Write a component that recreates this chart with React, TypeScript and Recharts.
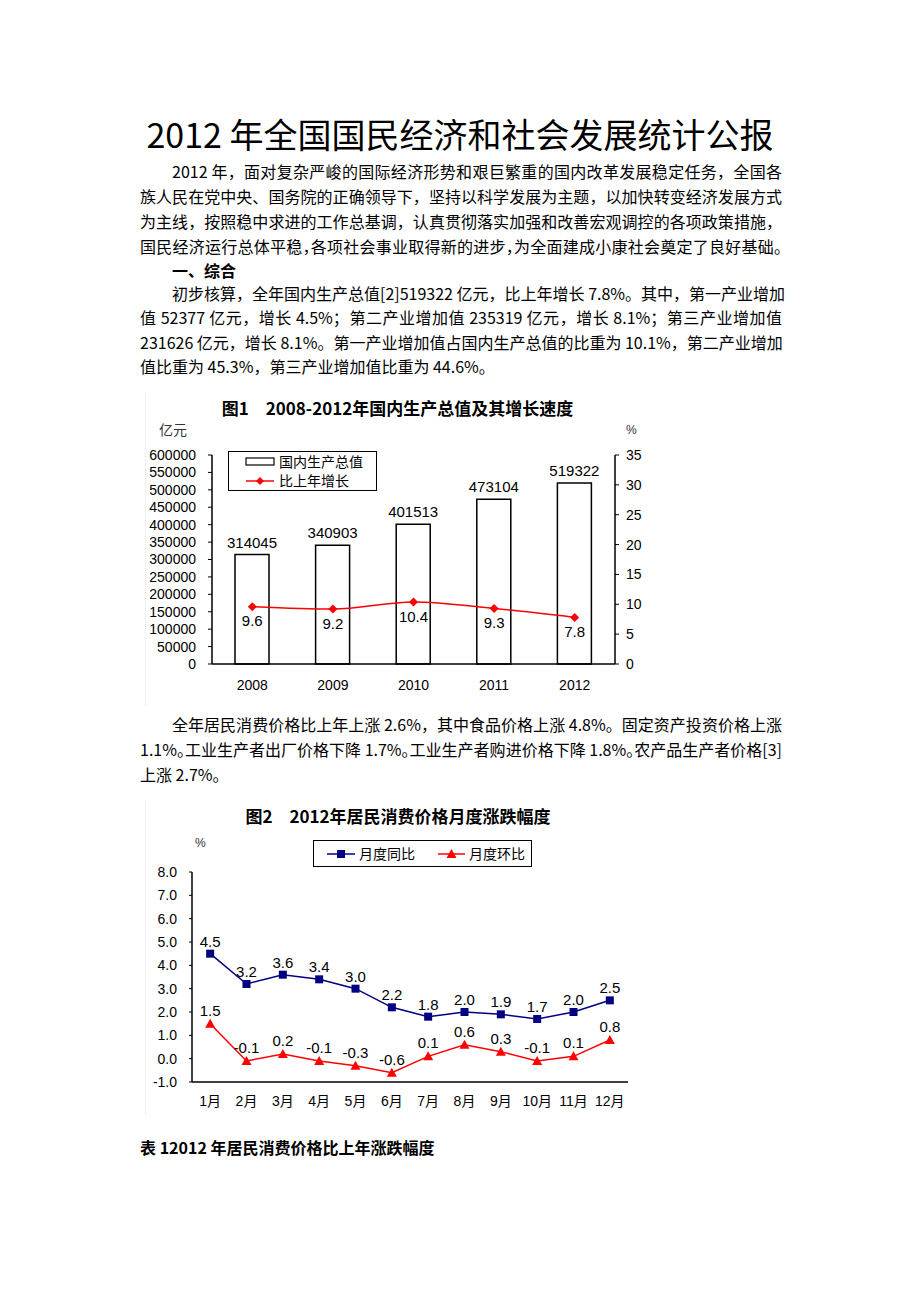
import React from "react";
import { ComposedChart, LineChart, Bar, Line, XAxis, YAxis, LabelList } from "recharts";

// 图1 data
const gdpYears = ["2008", "2009", "2010", "2011", "2012"];
const gdpValues = [314045, 340903, 401513, 473104, 519322];
const gdpGrowth = [9.6, 9.2, 10.4, 9.3, 7.8];
const gdpTicks = [0, 50000, 100000, 150000, 200000, 250000, 300000, 350000, 400000, 450000, 500000, 550000, 600000];
const growthTicks = [0, 5, 10, 15, 20, 25, 30, 35];

// 图2 data
const cpiMonths = ["1月", "2月", "3月", "4月", "5月", "6月", "7月", "8月", "9月", "10月", "11月", "12月"];
const cpiYoY = [4.5, 3.2, 3.6, 3.4, 3.0, 2.2, 1.8, 2.0, 1.9, 1.7, 2.0, 2.5];
const cpiMoM = [1.5, -0.1, 0.2, -0.1, -0.3, -0.6, 0.1, 0.6, 0.3, -0.1, 0.1, 0.8];
const cpiTicks = [-1, 0, 1, 2, 3, 4, 5, 6, 7, 8];

const gdpData = gdpYears.map((year, i) => ({ year, gdp: gdpValues[i], growth: gdpGrowth[i] }));
const cpiData = cpiMonths.map((month, i) => ({ month, yoy: cpiYoY[i], mom: cpiMoM[i] }));

const CJK = '"Noto Sans CJK SC", sans-serif';
const CHART_FONT = '"Liberation Sans", "Noto Sans CJK SC", sans-serif';
const RED = "#ff0000";
const NAVY = "#000080";

const tickStyle = { fill: "#000", fontSize: 14 };

function Diamond(p: any) {
  const { cx, cy, index } = p;
  if (cx == null || cy == null) return <g key={index} />;
  const r = 4.5;
  return <path key={index} d={`M${cx},${cy - r}L${cx + r},${cy}L${cx},${cy + r}L${cx - r},${cy}Z`} fill={RED} />;
}

function Square(p: any) {
  const { cx, cy, index } = p;
  if (cx == null || cy == null) return <g key={index} />;
  return <rect key={index} x={cx - 4} y={cy - 4} width={8} height={8} fill={NAVY} />;
}

function Triangle(p: any) {
  const { cx, cy, index } = p;
  if (cx == null || cy == null) return <g key={index} />;
  return <path key={index} d={`M${cx},${cy - 5}L${cx + 5},${cy + 4}L${cx - 5},${cy + 4}Z`} fill={RED} />;
}

function TextLine({ top, left = 140, width = 642, last = false, bold = false, children }: any) {
  return (
    <div
      style={{
        position: "absolute",
        top,
        left,
        width,
        fontSize: 16,
        lineHeight: "25px",
        whiteSpace: "nowrap",
        textAlign: "justify",
        textAlignLast: last ? "left" : "justify",
        fontWeight: bold ? 700 : 400,
        color: "#000",
      }}
    >
      {children}
    </div>
  );
}

// half-width punctuation, the way Word squeezes it at line ends
const H = ({ c }: { c: string }) => <span style={{ fontFeatureSettings: '"halt"' }}>{c}</span>;

function GdpChart() {
  return (
    <div style={{ position: "absolute", left: 145, top: 395, width: 555, height: 310, fontFamily: CHART_FONT, borderLeft: "1px dotted #e4e4e4" }}>
      <div style={{ position: "absolute", left: 0, width: 503, top: 2, textAlign: "center", fontSize: 17, fontWeight: 700, fontFamily: CJK, lineHeight: "22px", whiteSpace: "pre" }}>
        {"图1　2008-2012年国内生产总值及其增长速度"}
      </div>
      <div style={{ position: "absolute", left: 13, top: 24, fontSize: 14, fontFamily: CJK, color: "#333" }}>亿元</div>
      <div style={{ position: "absolute", left: 480, top: 28, fontSize: 12, color: "#333" }}>%</div>
      <ComposedChart width={555} height={310} data={gdpData} margin={{ top: 60, right: 46, bottom: 11, left: 0 }}>
        <XAxis
          xAxisId="sep"
          type="number"
          domain={[0, 5]}
          allowDataOverflow
          ticks={[1, 2, 3, 4]}
          height={0}
          mirror
          axisLine={false}
          tickSize={4}
          tickLine={{ stroke: "#000" }}
          tickFormatter={() => ""}
        />
        <XAxis
          xAxisId="cat"
          dataKey="year"
          height={30}
          tickSize={0}
          tickMargin={16}
          axisLine={{ stroke: "#000", strokeWidth: 1.5 }}
          tick={tickStyle}
        />
        <YAxis
          yAxisId="left"
          width={66}
          domain={[0, 600000]}
          ticks={gdpTicks}
          interval={0}
          tickSize={4}
          tickMargin={12}
          axisLine={{ stroke: "#000", strokeWidth: 1.5 }}
          tickLine={{ stroke: "#000" }}
          tick={tickStyle}
        />
        <YAxis
          yAxisId="right"
          orientation="right"
          width={40}
          domain={[0, 35]}
          ticks={growthTicks}
          interval={0}
          tickSize={4}
          tickMargin={7}
          axisLine={{ stroke: "#000", strokeWidth: 1.5 }}
          tickLine={{ stroke: "#000" }}
          tick={tickStyle}
        />
        <Bar xAxisId="cat" yAxisId="left" dataKey="gdp" barSize={34} fill="#fff" stroke="#000" strokeWidth={1.5} isAnimationActive={false}>
          <LabelList dataKey="gdp" position="top" offset={7} fill="#000" fontSize={15} />
        </Bar>
        <Line
          xAxisId="cat"
          yAxisId="right"
          type="monotone"
          dataKey="growth"
          stroke={RED}
          strokeWidth={1.5}
          dot={Diamond}
          activeDot={false}
          isAnimationActive={false}
        >
          <LabelList dataKey="growth" position="bottom" offset={9} fill="#000" fontSize={15} />
        </Line>
      </ComposedChart>
      {/* legend */}
      <div style={{ position: "absolute", left: 82, top: 56, width: 147, height: 38, border: "1.5px solid #000", background: "#fff", fontFamily: CJK, fontSize: 14 }}>
        <svg width={30} height={38} style={{ position: "absolute", left: 16, top: 0 }}>
          <rect x={1} y={6} width={28} height={7} fill="#fff" stroke="#000" strokeWidth={1.2} />
          <line x1={1} x2={29} y1={29} y2={29} stroke={RED} strokeWidth={1.5} />
          <path d="M15,25L19,29L15,33L11,29Z" fill={RED} />
        </svg>
        <div style={{ position: "absolute", left: 50, top: 0, lineHeight: "19px" }}>国内生产总值</div>
        <div style={{ position: "absolute", left: 50, top: 19, lineHeight: "19px" }}>比上年增长</div>
      </div>
    </div>
  );
}

function CpiChart() {
  return (
    <div style={{ position: "absolute", left: 145, top: 800, width: 560, height: 315, fontFamily: CHART_FONT, borderLeft: "1px dotted #e4e4e4" }}>
      <div style={{ position: "absolute", left: 0, width: 504, top: 5, textAlign: "center", fontSize: 17, fontWeight: 700, fontFamily: CJK, lineHeight: "22px", whiteSpace: "pre" }}>
        {"图2　2012年居民消费价格月度涨跌幅度"}
      </div>
      <div style={{ position: "absolute", left: 49, top: 36, fontSize: 12, color: "#333" }}>%</div>
      <LineChart width={560} height={315} data={cpiData} margin={{ top: 72, right: 78, bottom: 5, left: 0 }}>
        <XAxis
          xAxisId="sep"
          type="number"
          domain={[0, 12]}
          allowDataOverflow
          ticks={[1, 2, 3, 4, 5, 6, 7, 8, 9, 10, 11]}
          height={0}
          mirror
          axisLine={false}
          tickSize={4}
          tickLine={{ stroke: "#000" }}
          tickFormatter={() => ""}
        />
        <XAxis
          xAxisId="cat"
          dataKey="month"
          scale="band"
          height={28}
          tickSize={0}
          tickMargin={14}
          interval={0}
          axisLine={{ stroke: "#000", strokeWidth: 1.5 }}
          tick={tickStyle}
        />
        <YAxis
          width={46}
          domain={[-1, 8]}
          ticks={cpiTicks}
          interval={0}
          tickSize={3}
          tickMargin={12}
          tickFormatter={(v: number) => v.toFixed(1)}
          axisLine={{ stroke: "#000", strokeWidth: 1.5 }}
          tickLine={{ stroke: "#000" }}
          tick={tickStyle}
        />
        <Line xAxisId="cat" type="linear" dataKey="yoy" stroke={NAVY} strokeWidth={1.5} dot={Square} activeDot={false} isAnimationActive={false}>
          <LabelList dataKey="yoy" position="top" offset={7} fill="#000" fontSize={15} formatter={(v: any) => Number(v).toFixed(1)} />
        </Line>
        <Line xAxisId="cat" type="linear" dataKey="mom" stroke={RED} strokeWidth={1.5} dot={Triangle} activeDot={false} isAnimationActive={false}>
          <LabelList dataKey="mom" position="top" offset={8} fill="#000" fontSize={15} formatter={(v: any) => Number(v).toFixed(1)} />
        </Line>
      </LineChart>
      {/* legend */}
      <div style={{ position: "absolute", left: 167, top: 40, width: 217, height: 25, border: "1.5px solid #000", background: "#fff", fontFamily: CJK, fontSize: 14 }}>
        <svg width={220} height={25} style={{ position: "absolute", left: 0, top: 0 }}>
          <line x1={13} x2={41} y1={13} y2={13} stroke={NAVY} strokeWidth={1.5} />
          <rect x={23} y={9} width={8} height={8} fill={NAVY} />
          <line x1={124} x2={151} y1={13} y2={13} stroke={RED} strokeWidth={1.5} />
          <path d="M137.5,8L142.5,17L132.5,17Z" fill={RED} />
        </svg>
        <div style={{ position: "absolute", left: 45, top: 2, lineHeight: "20px" }}>月度同比</div>
        <div style={{ position: "absolute", left: 155, top: 2, lineHeight: "20px" }}>月度环比</div>
      </div>
    </div>
  );
}

export default function App() {
  return (
    <div style={{ position: "absolute", left: 0, top: 0, width: 920, height: 1302, background: "#fff", fontFamily: CJK, color: "#000" }}>
      <div style={{ position: "absolute", left: 0, width: 920, top: 114, textAlign: "center", fontSize: 34, lineHeight: "40px" }}>
        2012 年全国国民经济和社会发展统计公报
      </div>
      <TextLine top={159} left={172} width={610}>2012 年，面对复杂严峻的国际经济形势和艰巨繁重的国内改革发展稳定任务，全国各</TextLine>
      <TextLine top={184}>族人民在党中央、国务院的正确领导下，坚持以科学发展为主题，以加快转变经济发展方式</TextLine>
      <TextLine top={209}>为主线，按照稳中求进的工作总基调，认真贯彻落实加强和改善宏观调控的各项政策措施，</TextLine>
      <TextLine top={234}>
        国民经济运行总体平稳<H c="，" />各项社会事业取得新的进步<H c="，" />为全面建成小康社会奠定了良好基础<H c="。" />
      </TextLine>
      <TextLine top={258} left={172} width={610} last bold>一、综合</TextLine>
      <TextLine top={281} left={172} width={610}>初步核算，全年国内生产总值[2]519322 亿元，比上年增长 7.8%。其中，第一产业增加</TextLine>
      <TextLine top={305}>值 52377 亿元，增长 4.5%；第二产业增加值 235319 亿元，增长 8.1%；第三产业增加值</TextLine>
      <TextLine top={330}>231626 亿元，增长 8.1%。第一产业增加值占国内生产总值的比重为 10.1%，第二产业增加</TextLine>
      <TextLine top={354} last>值比重为 45.3%，第三产业增加值比重为 44.6%。</TextLine>

      <GdpChart />

      <TextLine top={712} left={172} width={610}>全年居民消费价格比上年上涨 2.6%，其中食品价格上涨 4.8%。固定资产投资价格上涨</TextLine>
      <TextLine top={737}>
        1.1%<H c="。" />工业生产者出厂价格下降 1.7%<H c="。" />工业生产者购进价格下降 1.8%<H c="。" />农产品生产者价格[3]
      </TextLine>
      <TextLine top={762} last>上涨 2.7%。</TextLine>

      <CpiChart />

      <TextLine top={1135} last bold>表 12012 年居民消费价格比上年涨跌幅度</TextLine>
    </div>
  );
}
